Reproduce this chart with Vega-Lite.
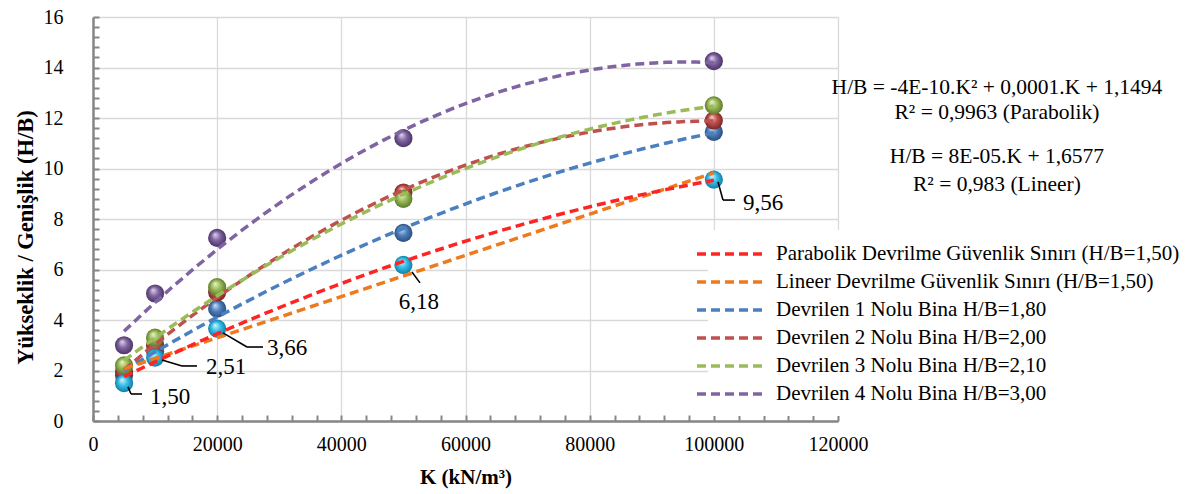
{
  "$schema": "https://vega.github.io/schema/vega-lite/v6.json",
  "width": 745,
  "height": 404,
  "autosize": {"type": "none"},
  "padding": {"left": 93, "top": 17, "right": 353, "bottom": 73},
  "background": "white",
  "config": {
    "font": "Liberation Serif",
    "view": {"stroke": null},
    "legend": {
      "labelFont": "Liberation Serif",
      "labelFontSize": 21,
      "labelColor": "black",
      "labelLimit": 600,
      "symbolType": "M-3.5,0H3.5",
      "symbolStrokeWidth": 3.5,
      "symbolDash": [9, 5],
      "symbolSize": 400,
      "symbolFillColor": "transparent",
      "labelOffset": 32,
      "rowPadding": 6,
      "padding": 12,
      "fillColor": "white"
    }
  },
  "datasets": {
    "pts": [
      {"K": 5000, "HB": 1.8, "seri": "Devrilen 1 Nolu Bina H/B=1,80"},
      {"K": 10000, "HB": 2.75, "seri": "Devrilen 1 Nolu Bina H/B=1,80"},
      {"K": 20000, "HB": 4.45, "seri": "Devrilen 1 Nolu Bina H/B=1,80"},
      {"K": 50000, "HB": 7.45, "seri": "Devrilen 1 Nolu Bina H/B=1,80"},
      {"K": 100000, "HB": 11.45, "seri": "Devrilen 1 Nolu Bina H/B=1,80"},
      {"K": 5000, "HB": 1.95, "seri": "Devrilen 2 Nolu Bina H/B=2,00"},
      {"K": 10000, "HB": 3.0, "seri": "Devrilen 2 Nolu Bina H/B=2,00"},
      {"K": 20000, "HB": 5.1, "seri": "Devrilen 2 Nolu Bina H/B=2,00"},
      {"K": 50000, "HB": 9.05, "seri": "Devrilen 2 Nolu Bina H/B=2,00"},
      {"K": 100000, "HB": 11.9, "seri": "Devrilen 2 Nolu Bina H/B=2,00"},
      {"K": 5000, "HB": 2.2, "seri": "Devrilen 3 Nolu Bina H/B=2,10"},
      {"K": 10000, "HB": 3.3, "seri": "Devrilen 3 Nolu Bina H/B=2,10"},
      {"K": 20000, "HB": 5.3, "seri": "Devrilen 3 Nolu Bina H/B=2,10"},
      {"K": 50000, "HB": 8.8, "seri": "Devrilen 3 Nolu Bina H/B=2,10"},
      {"K": 100000, "HB": 12.5, "seri": "Devrilen 3 Nolu Bina H/B=2,10"},
      {"K": 5000, "HB": 3.0, "seri": "Devrilen 4 Nolu Bina H/B=3,00"},
      {"K": 10000, "HB": 5.05, "seri": "Devrilen 4 Nolu Bina H/B=3,00"},
      {"K": 20000, "HB": 7.25, "seri": "Devrilen 4 Nolu Bina H/B=3,00"},
      {"K": 50000, "HB": 11.2, "seri": "Devrilen 4 Nolu Bina H/B=3,00"},
      {"K": 100000, "HB": 14.25, "seri": "Devrilen 4 Nolu Bina H/B=3,00"},
      {"K": 5000, "HB": 1.5, "seri": "Güvenlik Sınırı"},
      {"K": 10000, "HB": 2.51, "seri": "Güvenlik Sınırı"},
      {"K": 20000, "HB": 3.66, "seri": "Güvenlik Sınırı"},
      {"K": 50000, "HB": 6.18, "seri": "Güvenlik Sınırı"},
      {"K": 100000, "HB": 9.56, "seri": "Güvenlik Sınırı"}
    ],
    "notes": [
      {"K": 145600, "HB": 13.19, "t": "H/B = -4E-10.K² + 0,0001.K + 1,1494"},
      {"K": 145600, "HB": 12.2, "t": "R² = 0,9963 (Parabolik)"},
      {"K": 145600, "HB": 10.46, "t": "H/B = 8E-05.K + 1,6577"},
      {"K": 145600, "HB": 9.35, "t": "R² = 0,983 (Lineer)"}
    ],
    "callouts": [
      {"K": 9181, "HB": 0.95, "t": "1,50", "a": "left"},
      {"K": 18201, "HB": 2.14, "t": "2,51", "a": "left"},
      {"K": 28026, "HB": 2.89, "t": "3,66", "a": "left"},
      {"K": 52509, "HB": 4.71, "t": "6,18", "a": "center"},
      {"K": 104696, "HB": 8.63, "t": "9,56", "a": "left"}
    ],
    "leaders": [
      {"k1": 5637, "h1": 1.35, "k2": 6121, "h2": 1.07},
      {"k1": 6121, "h1": 1.07, "k2": 7892, "h2": 1.07},
      {"k1": 11114, "h1": 2.42, "k2": 14335, "h2": 2.18},
      {"k1": 14335, "h1": 2.18, "k2": 16751, "h2": 2.18},
      {"k1": 20939, "h1": 3.49, "k2": 24805, "h2": 2.93},
      {"k1": 24805, "h1": 2.93, "k2": 27382, "h2": 2.93},
      {"k1": 51381, "h1": 5.9, "k2": 52670, "h2": 5.47},
      {"k1": 100669, "h1": 9.47, "k2": 101475, "h2": 8.75},
      {"k1": 101475, "h1": 8.75, "k2": 103408, "h2": 8.75}
    ]
  },
  "layer": [
    {
      "data": {"name": "pts"},
      "transform": [{"filter": "datum.seri === 'Devrilen 1 Nolu Bina H/B=1,80'"}],
      "mark": {"type": "point", "shape": "circle", "filled": true, "size": 330, "opacity": 1, "strokeWidth": 0,
        "fill": {"gradient": "radial", "x1": 0.38, "y1": 0.3, "r1": 0, "x2": 0.5, "y2": 0.5, "r2": 0.5,
          "stops": [{"offset": 0, "color": "#D2E3F6"}, {"offset": 0.5, "color": "#4F81BD"}, {"offset": 1, "color": "#2B4E7E"}]}},
      "encoding": {
        "x": {"field": "K", "type": "quantitative", "scale": {"domain": [0, 120000], "nice": false, "zero": false},
          "axis": {
            "title": "K (kN/m³)",
            "values": [0, 4000, 8000, 12000, 16000, 20000, 24000, 28000, 32000, 36000, 40000, 44000, 48000, 52000, 56000, 60000, 64000, 68000, 72000, 76000, 80000, 84000, 88000, 92000, 96000, 100000, 104000, 108000, 112000, 116000, 120000],
            "tickCount": 200,
            "format": "d",
            "labelExpr": "datum.value % 20000 === 0 ? datum.label : ''",
            "grid": true,
            "gridColor": {"condition": {"test": "datum.value % 20000 === 0", "value": "#D9D9D9"}, "value": "transparent"},
            "gridWidth": 1.3,
            "tickSize": -6,
            "tickColor": "#868686",
            "tickWidth": 2,
            "domainColor": "#868686",
            "domainWidth": 2.5,
            "labelFont": "Liberation Serif",
            "labelFontSize": 20,
            "labelColor": "black",
            "labelPadding": 19,
            "labelFlush": false,
            "labelOverlap": false,
            "titleFont": "Liberation Serif",
            "titleFontSize": 21,
            "titleFontWeight": "bold",
            "titleColor": "black",
            "titlePadding": 12
          }},
        "y": {"field": "HB", "type": "quantitative", "scale": {"domain": [0, 16], "nice": false},
          "axis": {
            "title": "Yükseklik / Genişlik (H/B)",
            "values": [0, 0.4, 0.8, 1.2, 1.6, 2, 2.4, 2.8, 3.2, 3.6, 4, 4.4, 4.8, 5.2, 5.6, 6, 6.4, 6.8, 7.2, 7.6, 8, 8.4, 8.8, 9.2, 9.6, 10, 10.4, 10.8, 11.2, 11.6, 12, 12.4, 12.8, 13.2, 13.6, 14, 14.4, 14.8, 15.2, 15.6, 16],
            "tickCount": 200,
            "format": "~g",
            "labelExpr": "datum.value % 2 === 0 ? datum.label : ''",
            "grid": true,
            "gridColor": {"condition": {"test": "datum.value % 2 === 0", "value": "#D9D9D9"}, "value": "transparent"},
            "gridWidth": 1.3,
            "tickSize": -6,
            "tickColor": "#868686",
            "tickWidth": 2,
            "domainColor": "#868686",
            "domainWidth": 2.5,
            "labelFont": "Liberation Serif",
            "labelFontSize": 20,
            "labelColor": "black",
            "labelPadding": 36,
            "labelFlush": false,
            "labelOverlap": false,
            "titleFont": "Liberation Serif",
            "titleFontSize": 22.5,
            "titleFontWeight": "bold",
            "titleColor": "black",
            "titleX": -56,
            "titleY": 220
          }}
      }
    },
    {
      "data": {"name": "pts"},
      "transform": [{"filter": "datum.seri === 'Devrilen 2 Nolu Bina H/B=2,00'"}],
      "mark": {"type": "point", "shape": "circle", "filled": true, "size": 330, "opacity": 1, "strokeWidth": 0,
        "fill": {"gradient": "radial", "x1": 0.38, "y1": 0.3, "r1": 0, "x2": 0.5, "y2": 0.5, "r2": 0.5,
          "stops": [{"offset": 0, "color": "#F7CFCD"}, {"offset": 0.5, "color": "#C0504D"}, {"offset": 1, "color": "#7A2725"}]}},
      "encoding": {"x": {"field": "K", "type": "quantitative"}, "y": {"field": "HB", "type": "quantitative"}}
    },
    {
      "data": {"name": "pts"},
      "transform": [{"filter": "datum.seri === 'Devrilen 3 Nolu Bina H/B=2,10'"}],
      "mark": {"type": "point", "shape": "circle", "filled": true, "size": 330, "opacity": 1, "strokeWidth": 0,
        "fill": {"gradient": "radial", "x1": 0.38, "y1": 0.3, "r1": 0, "x2": 0.5, "y2": 0.5, "r2": 0.5,
          "stops": [{"offset": 0, "color": "#EAF5CF"}, {"offset": 0.5, "color": "#9BBB59"}, {"offset": 1, "color": "#5E7A2B"}]}},
      "encoding": {"x": {"field": "K", "type": "quantitative"}, "y": {"field": "HB", "type": "quantitative"}}
    },
    {
      "data": {"name": "pts"},
      "transform": [{"filter": "datum.seri === 'Devrilen 4 Nolu Bina H/B=3,00'"}],
      "mark": {"type": "point", "shape": "circle", "filled": true, "size": 330, "opacity": 1, "strokeWidth": 0,
        "fill": {"gradient": "radial", "x1": 0.38, "y1": 0.3, "r1": 0, "x2": 0.5, "y2": 0.5, "r2": 0.5,
          "stops": [{"offset": 0, "color": "#E1D8EE"}, {"offset": 0.5, "color": "#8064A2"}, {"offset": 1, "color": "#4B3566"}]}},
      "encoding": {"x": {"field": "K", "type": "quantitative"}, "y": {"field": "HB", "type": "quantitative"}}
    },
    {
      "data": {"name": "pts"},
      "transform": [{"filter": "datum.seri === 'Güvenlik Sınırı'"}],
      "mark": {"type": "point", "shape": "circle", "filled": true, "size": 330, "opacity": 1, "strokeWidth": 0,
        "fill": {"gradient": "radial", "x1": 0.38, "y1": 0.3, "r1": 0, "x2": 0.5, "y2": 0.5, "r2": 0.5,
          "stops": [{"offset": 0, "color": "#DDF6FD"}, {"offset": 0.5, "color": "#35BFE8"}, {"offset": 1, "color": "#0F7FA8"}]}},
      "encoding": {"x": {"field": "K", "type": "quantitative"}, "y": {"field": "HB", "type": "quantitative"}}
    },
    {
      "data": {"name": "pts"},
      "transform": [
        {"filter": "datum.seri !== 'Güvenlik Sınırı'"},
        {"regression": "HB", "on": "K", "groupby": ["seri"], "method": "poly", "order": 2, "extent": [5000, 100000]}
      ],
      "mark": {"type": "line", "strokeDash": [9, 5], "strokeWidth": 3.5},
      "encoding": {
        "x": {"field": "K", "type": "quantitative"},
        "y": {"field": "HB", "type": "quantitative"},
        "color": {"field": "seri", "type": "nominal",
          "scale": {
            "domain": ["Parabolik Devrilme Güvenlik Sınırı (H/B=1,50)", "Lineer Devrilme Güvenlik Sınırı (H/B=1,50)", "Devrilen 1 Nolu Bina H/B=1,80", "Devrilen 2 Nolu Bina H/B=2,00", "Devrilen 3 Nolu Bina H/B=2,10", "Devrilen 4 Nolu Bina H/B=3,00"],
            "range": ["#FF2424", "#EE7A1E", "#4A7FC0", "#C0504D", "#9BBB59", "#8064A2"]
          },
          "legend": {"title": null, "orient": "none", "legendX": 615, "legendY": 213}
        }
      }
    },
    {
      "data": {"name": "pts"},
      "transform": [
        {"filter": "datum.seri === 'Güvenlik Sınırı'"},
        {"regression": "HB", "on": "K", "method": "linear", "extent": [5000, 100000]}
      ],
      "mark": {"type": "line", "strokeDash": [9, 5], "strokeWidth": 3.5},
      "encoding": {
        "x": {"field": "K", "type": "quantitative"},
        "y": {"field": "HB", "type": "quantitative"},
        "color": {"datum": "Lineer Devrilme Güvenlik Sınırı (H/B=1,50)"}
      }
    },
    {
      "data": {"name": "pts"},
      "transform": [
        {"filter": "datum.seri === 'Güvenlik Sınırı'"},
        {"regression": "HB", "on": "K", "method": "poly", "order": 2, "extent": [5000, 100000]}
      ],
      "mark": {"type": "line", "strokeDash": [9, 5], "strokeWidth": 3.5},
      "encoding": {
        "x": {"field": "K", "type": "quantitative"},
        "y": {"field": "HB", "type": "quantitative"},
        "color": {"datum": "Parabolik Devrilme Güvenlik Sınırı (H/B=1,50)"}
      }
    },
    {
      "data": {"name": "leaders"},
      "mark": {"type": "rule", "color": "black", "strokeWidth": 1.6},
      "encoding": {
        "x": {"field": "k1", "type": "quantitative"},
        "y": {"field": "h1", "type": "quantitative"},
        "x2": {"field": "k2"},
        "y2": {"field": "h2"}
      }
    },
    {
      "data": {"name": "callouts"},
      "transform": [{"filter": "datum.a === 'left'"}],
      "mark": {"type": "text", "font": "Liberation Serif", "fontSize": 23, "color": "black", "align": "left", "baseline": "middle"},
      "encoding": {
        "x": {"field": "K", "type": "quantitative"},
        "y": {"field": "HB", "type": "quantitative"},
        "text": {"field": "t"}
      }
    },
    {
      "data": {"name": "callouts"},
      "transform": [{"filter": "datum.a === 'center'"}],
      "mark": {"type": "text", "font": "Liberation Serif", "fontSize": 23, "color": "black", "align": "center", "baseline": "middle"},
      "encoding": {
        "x": {"field": "K", "type": "quantitative"},
        "y": {"field": "HB", "type": "quantitative"},
        "text": {"field": "t"}
      }
    },
    {
      "data": {"name": "notes"},
      "mark": {"type": "text", "font": "Liberation Serif", "fontSize": 21.5, "color": "black", "align": "center", "baseline": "middle"},
      "encoding": {
        "x": {"field": "K", "type": "quantitative"},
        "y": {"field": "HB", "type": "quantitative"},
        "text": {"field": "t"}
      }
    }
  ]
}
